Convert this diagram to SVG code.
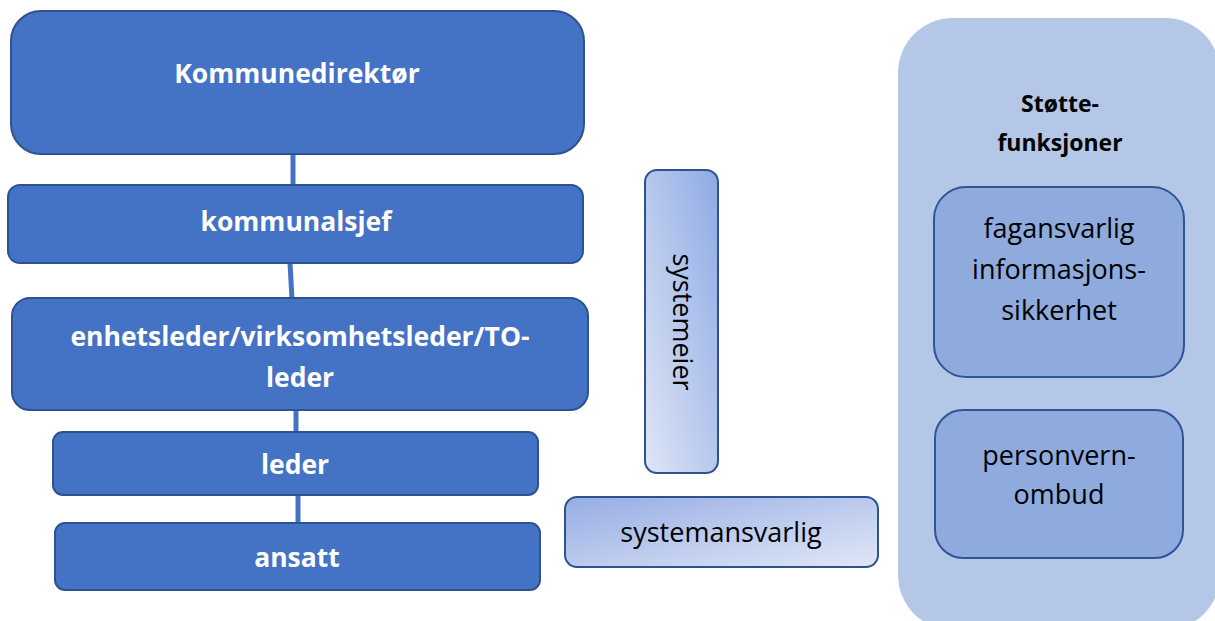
<svg xmlns="http://www.w3.org/2000/svg" width="1215" height="621" viewBox="0 0 1215 621">
<defs>
<style>
.main{fill:#4472c4;stroke:#2f528f;stroke-width:2}
.wt{font-family:"Open Sans","Liberation Sans",sans-serif;font-weight:bold;fill:#ffffff;text-anchor:middle;font-size:26.5px}
.bt{font-family:"Open Sans","Liberation Sans",sans-serif;fill:#000000;text-anchor:middle;font-size:27px}
.bb{font-family:"Open Sans","Liberation Sans",sans-serif;font-weight:bold;fill:#000000;text-anchor:middle;font-size:23px}
.sub{fill:#8faadc;stroke:#2f5597;stroke-width:2}
.conn{stroke:#4472c4;stroke-width:5;fill:none}
</style>
<linearGradient id="g1" x1="0" y1="1" x2="1" y2="0">
<stop offset="0" stop-color="#dfe6f6"/>
<stop offset="1" stop-color="#8eaae4"/>
</linearGradient>
<linearGradient id="g2" x1="0" y1="0" x2="1" y2="1">
<stop offset="0" stop-color="#96ade4"/>
<stop offset="1" stop-color="#e0e7f6"/>
</linearGradient>
</defs>
<g id="connectors">
<line class="conn" x1="293" y1="155" x2="293" y2="186"/>
<line class="conn" x1="290" y1="263" x2="292" y2="299"/>
<line class="conn" x1="296" y1="410" x2="296" y2="433"/>
<line class="conn" x1="298" y1="495" x2="298" y2="524"/>
</g>
<g id="kommunedirektor">
<rect class="main" x="11" y="11" width="573" height="143" rx="30" stroke-width="4"/>
<text class="wt" x="297" y="83">Kommunedirektør</text>
</g>
<g id="kommunalsjef">
<rect class="main" x="8" y="185" width="575" height="78" rx="12"/>
<text class="wt" x="296" y="231">kommunalsjef</text>
</g>
<g id="enhetsleder">
<rect class="main" x="12" y="298" width="576" height="112" rx="18"/>
<text class="wt" x="300" y="346">enhetsleder/virksomhetsleder/TO-</text>
<text class="wt" x="300" y="387">leder</text>
</g>
<g id="leder">
<rect class="main" x="53" y="432" width="485" height="63" rx="10"/>
<text class="wt" x="295" y="474">leder</text>
</g>
<g id="ansatt">
<rect class="main" x="55" y="523" width="485" height="67" rx="10"/>
<text class="wt" x="297" y="567">ansatt</text>
</g>
<g id="systemeier">
<rect x="645" y="170" width="73" height="303" rx="12" fill="url(#g1)" stroke="#2f528f" stroke-width="2"/>
<text class="bt" transform="translate(673 322) rotate(90)">systemeier</text>
</g>
<g id="systemansvarlig">
<rect x="565" y="497" width="313" height="70" rx="12" fill="url(#g2)" stroke="#2f528f" stroke-width="2"/>
<text class="bt" x="721" y="542">systemansvarlig</text>
</g>
<g id="stottefunksjoner">
<rect x="898" y="18" width="322" height="612" rx="55" fill="#b4c7e7"/>
<text class="bb" x="1060" y="112">Støtte-</text>
<text class="bb" x="1060" y="151">funksjoner</text>
</g>
<g id="fagansvarlig">
<rect class="sub" x="934" y="187" width="250" height="190" rx="32"/>
<text class="bt" x="1059" y="238">fagansvarlig</text>
<text class="bt" x="1059" y="279">informasjons-</text>
<text class="bt" x="1059" y="320">sikkerhet</text>
</g>
<g id="personvernombud">
<rect class="sub" x="935" y="410" width="248" height="148" rx="28"/>
<text class="bt" x="1059" y="465">personvern-</text>
<text class="bt" x="1059" y="504">ombud</text>
</g>
</svg>
